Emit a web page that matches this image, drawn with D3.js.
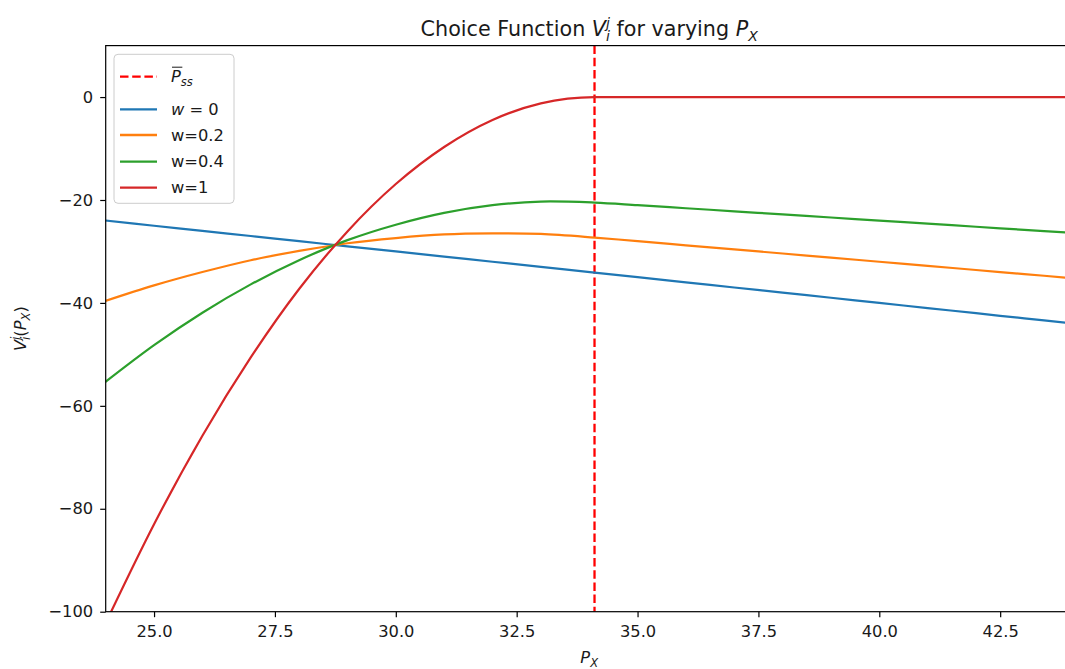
<!DOCTYPE html>
<html>
<head>
<meta charset="utf-8">
<script src="https://cdn.jsdelivr.net/npm/d3@7"></script>
<style>
  body { margin: 0; background: #fff; }
  text { font-family: "DejaVu Sans", sans-serif; fill: #1a1a1a; }
</style>
</head>
<body>
<svg id="chart"></svg>
<script>
// values
var priceX = [24, 25, 26, 27, 28, 29, 30, 31, 32, 33, 34.11, 35, 36, 37, 38, 39, 40, 41, 42, 43, 44];
var valueW0 = [-24, -25, -26, -27, -28, -29, -30, -31, -32, -33, -34.1, -35, -36, -37, -38, -39, -40, -41, -42, -43, -44];
var valueW02 = [-39.6, -36.6, -34.0, -31.7, -29.9, -28.4, -27.4, -26.7, -26.5, -26.6, -27.3, -28.0, -28.8, -29.6, -30.4, -31.2, -32.0, -32.8, -33.6, -34.4, -35.2];
var valueW04 = [-55.3, -48.2, -41.9, -36.4, -31.7, -27.8, -24.8, -22.5, -21.0, -20.3, -20.5, -21.0, -21.6, -22.2, -22.8, -23.4, -24.0, -24.6, -25.2, -25.8, -26.4];
var valueW1 = [-102.2, -83.0, -65.8, -50.6, -37.3, -26.1, -16.9, -9.7, -4.45, -1.23, 0, 0, 0, 0, 0, 0, 0, 0, 0, 0, 0];
var steadyPrice = 34.11;
var xTicks = [25, 27.5, 30, 32.5, 35, 37.5, 40, 42.5];
var yTicks = [-100, -80, -60, -40, -20, 0];

var W = 1065, H = 669;
var plotLeft = 105.7, plotTop = 45.6, plotRight = 1072.7, plotBottom = 611.7;
var FS = 16.3;

var svg = d3.select('#chart').attr('width', W).attr('height', H)
            .style('display', 'block');

var x = d3.scaleLinear().domain([24, 44]).range([plotLeft, plotRight]);
var y = d3.scaleLinear().domain([-100, 10]).range([plotBottom, plotTop]);

svg.append('clipPath').attr('id', 'plot-clip')
   .append('rect').attr('x', plotLeft).attr('y', plotTop)
   .attr('width', plotRight - plotLeft).attr('height', plotBottom - plotTop);

// helper: text made of parts (upright / italic / sub / sup)
function richText(sel, parts) {
    parts.forEach(function(p) {
        var t = sel.append('tspan').text(p.t);
        if (p.italic) t.style('font-style', 'italic');
        if (p.size) t.style('font-size', p.size + 'px');
        if (p.dx) t.attr('dx', p.dx);
        if (p.dy) t.attr('dy', p.dy);
    });
    return sel;
}

var series = [
    { values: valueW0,  color: '#1f77b4', curve: d3.curveCatmullRom },
    { values: valueW02, color: '#ff7f0e', curve: d3.curveCatmullRom },
    { values: valueW04, color: '#2ca02c', curve: d3.curveCatmullRom },
    { values: valueW1,  color: '#d62728', curve: d3.curveMonotoneX }
];

var plot = svg.append('g').attr('clip-path', 'url(#plot-clip)');

// steady-state price, dashed
plot.append('line')
    .attr('x1', x(steadyPrice)).attr('x2', x(steadyPrice))
    .attr('y1', y(10)).attr('y2', y(-100))
    .attr('stroke', '#ff0000').attr('stroke-width', 2.3)
    .attr('stroke-dasharray', '8.5,3.7');

series.forEach(function(s) {
    var line = d3.line().x(function(d, i) { return x(priceX[i]); })
                        .y(function(d) { return y(d); })
                        .curve(s.curve);
    plot.append('path').datum(s.values)
        .attr('d', line).attr('fill', 'none')
        .attr('stroke', s.color).attr('stroke-width', 2.2)
        .attr('stroke-linecap', 'square');
});

// axes
var xAxis = svg.append('g').attr('transform', 'translate(0,' + plotBottom + ')')
    .call(d3.axisBottom(x).tickValues(xTicks).tickFormat(d3.format('.1f'))
            .tickSize(5.5).tickPadding(8));
var yAxis = svg.append('g').attr('transform', 'translate(' + plotLeft + ',0)')
    .call(d3.axisLeft(y).tickValues(yTicks).tickFormat(d3.format('d'))
            .tickSize(5.5).tickPadding(7));
[xAxis, yAxis].forEach(function(a) {
    a.select('.domain').remove();
    a.selectAll('.tick line').attr('stroke', '#000').attr('stroke-width', 1.2);
    a.selectAll('.tick text').style('font-size', FS + 'px')
     .style('font-family', '"DejaVu Sans", sans-serif').attr('fill', '#1a1a1a');
});

// spines
svg.append('rect').attr('x', plotLeft).attr('y', plotTop)
   .attr('width', plotRight - plotLeft).attr('height', plotBottom - plotTop)
   .attr('fill', 'none').attr('stroke', '#000').attr('stroke-width', 1.2);

// title
richText(svg.append('text').attr('x', (plotLeft + plotRight) / 2).attr('y', 36)
            .attr('text-anchor', 'middle').style('font-size', '20.7px'), [
    { t: 'Choice Function ' },
    { t: 'V', italic: true },
    { t: 'j', italic: true, size: 14, dy: -8.5 },
    { t: 'i', italic: true, size: 14, dx: -3.9, dy: 13 },
    { t: ' for varying ', dy: -4.5 },
    { t: 'P', italic: true },
    { t: 'X', italic: true, size: 14, dy: 4.5 }
]);

// x label
richText(svg.append('text').attr('x', (plotLeft + plotRight) / 2).attr('y', 663)
            .attr('text-anchor', 'middle').style('font-size', FS + 'px'), [
    { t: 'P', italic: true },
    { t: 'X', italic: true, size: 11.5, dy: 3.5 }
]);

// y label
richText(svg.append('text').attr('transform', 'translate(26,' + ((plotTop + plotBottom) / 2) + ') rotate(-90)')
            .attr('text-anchor', 'middle').style('font-size', FS + 'px'), [
    { t: 'V', italic: true },
    { t: 'j', italic: true, size: 11.5, dy: -6.5 },
    { t: 'i', italic: true, size: 11.5, dx: -3.2, dy: 10 },
    { t: '(', dy: -3.5 },
    { t: 'P', italic: true },
    { t: 'X', italic: true, size: 11.5, dy: 3.5 },
    { t: ')', dy: -3.5 }
]);

// legend
var lg = svg.append('g');
lg.append('rect').attr('x', 114).attr('y', 54.3).attr('width', 120).attr('height', 149)
  .attr('rx', 4).attr('fill', '#fff').attr('fill-opacity', 0.8)
  .attr('stroke', '#cccccc').attr('stroke-width', 1);

var rows = [76.7, 109.3, 135, 161.7, 187.7];
lg.append('line').attr('x1', 120).attr('x2', 157).attr('y1', rows[0]).attr('y2', rows[0])
  .attr('stroke', '#ff0000').attr('stroke-width', 2.3).attr('stroke-dasharray', '8.5,3.7');
var pText = lg.append('text').attr('x', 171).attr('y', rows[0] + 5.5).style('font-size', FS + 'px');
richText(pText, [
    { t: 'P', italic: true },
    { t: 'ss', italic: true, size: 11.5, dy: 3.5 }
]);
var pLen = pText.select('tspan').node().getComputedTextLength();
lg.append('line').attr('x1', 172).attr('x2', 171 + pLen + 1.5)
  .attr('y1', rows[0] - 9.5).attr('y2', rows[0] - 9.5)
  .attr('stroke', '#1a1a1a').attr('stroke-width', 1);

var legendLabels = [
    [{ t: 'w', italic: true }, { t: ' = 0' }],
    [{ t: 'w=0.2' }],
    [{ t: 'w=0.4' }],
    [{ t: 'w=1' }]
];
series.forEach(function(s, i) {
    var yy = rows[i + 1];
    lg.append('line').attr('x1', 120).attr('x2', 157).attr('y1', yy).attr('y2', yy)
      .attr('stroke', s.color).attr('stroke-width', 2.3);
    richText(lg.append('text').attr('x', 171).attr('y', yy + 5.5).style('font-size', FS + 'px'),
             legendLabels[i]);
});
</script>
</body>
</html>
